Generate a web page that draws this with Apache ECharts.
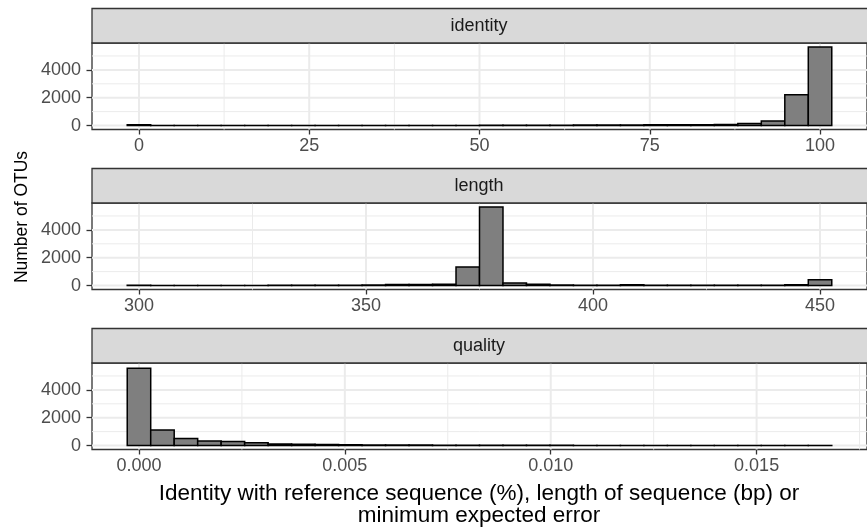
<!DOCTYPE html>
<html><head><meta charset="utf-8">
<script src="https://cdn.jsdelivr.net/npm/echarts@6/dist/echarts.min.js"></script>
<style>html,body{margin:0;padding:0;background:#fff}#c{width:867px;height:531px}</style>
</head><body><div id="c"></div>
<script>
// ---- data ----
const panelNames = ['identity', 'length', 'quality'];
const identityRange = [0, 100];
const identityCounts = [60, 8, 5, 6, 5, 8, 6, 7, 8, 6, 8, 9, 10, 12, 12, 14, 15, 18, 30, 35, 40, 45, 50, 55, 60, 85, 150, 330, 2210, 5640];
const lengthRange = [300, 450];
const lengthCounts = [25, 10, 10, 12, 10, 12, 15, 15, 20, 25, 40, 70, 80, 90, 1330, 5650, 180, 100, 40, 25, 20, 50, 15, 15, 15, 15, 15, 15, 60, 420];
const qualityRange = [0, 0.01654];
const qualityCounts = [5550, 1110, 500, 320, 300, 210, 120, 90, 70, 55, 45, 40, 35, 30, 25, 22, 20, 18, 15, 12, 12, 10, 10, 8, 8, 6, 6, 5, 5, 5];
const identityTicks = [0, 25, 50, 75, 100];
const identityTickLabels = ['0', '25', '50', '75', '100'];
const lengthTicks = [300, 350, 400, 450];
const lengthTickLabels = ['300', '350', '400', '450'];
const qualityTicks = [0, 0.005, 0.01, 0.015];
const qualityTickLabels = ['0.000', '0.005', '0.010', '0.015'];
const yTicks = [0, 2000, 4000];
const yTickLabels = ['0', '2000', '4000'];
const yTitle = 'Number of OTUs';
const xTitle = 'Identity with reference sequence (%), length of sequence (bp) or\nminimum expected error';

// ---- layout ----
const panels = [
  {name: panelNames[0], range: identityRange, counts: identityCounts, ticks: identityTicks, labels: identityTickLabels},
  {name: panelNames[1], range: lengthRange, counts: lengthCounts, ticks: lengthTicks, labels: lengthTickLabels},
  {name: panelNames[2], range: qualityRange, counts: qualityCounts, ticks: qualityTicks, labels: qualityTickLabels}
];
const LEFT = 92, WIDTH = 778, PH = 86.5, STRIP = 34.5;
const TOPS = [43, 203, 363];
const NBINS = 30;
const allCounts = identityCounts.concat(lengthCounts, qualityCounts);
const yMaxData = Math.max.apply(null, allCounts);
const yMin = -0.05 * yMaxData, yMax = 1.05 * yMaxData;
function minorOf(ticks, lo, hi) {
  const step = ticks[1] - ticks[0];
  const out = [];
  for (let i = -1; i < ticks.length; i++) {
    const v = ticks[0] + (i + 0.5) * step;
    if (v > lo && v < hi) out.push(v);
  }
  return out;
}
const grids = [], xAxes = [], yAxes = [], series = [], graphics = [];
const BORDER = '#333333';
const FONT = 'Liberation Sans';
panels.forEach((p, i) => {
  const bw = (p.range[1] - p.range[0]) / (NBINS - 1);
  const lo = p.range[0] - bw / 2, hi = p.range[1] + bw / 2;
  const ex = 0.05 * (hi - lo);
  const xmin = lo - ex, xmax = hi + ex;
  grids.push({left: LEFT, width: WIDTH, top: TOPS[i], height: PH, show: true, borderColor: BORDER, borderWidth: 1.3, backgroundColor: '#fff'});
  xAxes.push({
    type: 'value', gridIndex: i, min: xmin, max: xmax, position: 'bottom',
    axisLine: {show: false, onZero: false},
    splitLine: {show: false},
    axisTick: {show: true, customValues: p.ticks, length: 5, lineStyle: {color: BORDER, width: 1.3}},
    axisLabel: {customValues: p.ticks, color: '#4D4D4D', fontSize: 18, fontFamily: FONT, margin: 8,
      formatter: v => { const k = p.ticks.findIndex(t => Math.abs(t - v) < 1e-9); return k >= 0 ? p.labels[k] : ''; }}
  });
  yAxes.push({
    type: 'value', gridIndex: i, min: yMin, max: yMax, position: 'left',
    axisLine: {show: false, onZero: false},
    splitLine: {show: false},
    axisTick: {show: true, customValues: yTicks, length: 5.5, lineStyle: {color: BORDER, width: 1.3}},
    axisLabel: {customValues: yTicks, color: '#4D4D4D', fontSize: 18, fontFamily: FONT, margin: 11,
      formatter: v => { const k = yTicks.findIndex(t => Math.abs(t - v) < 1e-9); return k >= 0 ? yTickLabels[k] : ''; }}
  });
  // grid lines (vertical: [x value, minor flag]; horizontal: [y value, minor flag])
  const vLines = minorOf(p.ticks, xmin, xmax).map(v => [v, 1]).concat(p.ticks.map(v => [v, 0]));
  const hLines = minorOf(yTicks, yMin, yMax).map(v => [v, 1]).concat(yTicks.map(v => [v, 0]));
  series.push({
    type: 'custom', xAxisIndex: i, yAxisIndex: i, z: 1, silent: true, clip: false,
    data: vLines.map(d => [d[0], yMin, d[1]]), encode: {x: 0, y: 1},
    renderItem: (params, api) => {
      const cs = params.coordSys;
      const x = api.coord([api.value(0), api.value(1)])[0];
      return {type: 'line', shape: {x1: x, y1: cs.y, x2: x, y2: cs.y + cs.height},
        style: {stroke: '#EBEBEB', lineWidth: api.value(2) === 1 ? 1 : 2}};
    }
  });
  series.push({
    type: 'custom', xAxisIndex: i, yAxisIndex: i, z: 1, silent: true, clip: false,
    data: hLines.map(d => [xmin, d[0], d[1]]), encode: {x: 0, y: 1},
    renderItem: (params, api) => {
      const cs = params.coordSys;
      const y = api.coord([api.value(0), api.value(1)])[1];
      return {type: 'line', shape: {x1: cs.x, y1: y, x2: cs.x + cs.width, y2: y},
        style: {stroke: '#EBEBEB', lineWidth: api.value(2) === 1 ? 1 : 2}};
    }
  });
  // histogram bars
  series.push({
    type: 'custom', xAxisIndex: i, yAxisIndex: i, z: 2, clip: true,
    data: p.counts.map((n, k) => [p.range[0] + k * bw, n]),
    encode: {x: 0, y: 1},
    renderItem: (params, api) => {
      const c = api.value(0), n = api.value(1);
      const a = api.coord([c - bw / 2, 0]);
      const b = api.coord([c + bw / 2, n]);
      return {type: 'rect', shape: {x: a[0], y: b[1], width: b[0] - a[0], height: a[1] - b[1]},
        style: {fill: '#7F7F7F', stroke: '#000', lineWidth: 1.5}};
    }
  });
  // strip
  graphics.push({type: 'rect', shape: {x: LEFT, y: TOPS[i] - STRIP, width: WIDTH, height: STRIP},
    style: {fill: '#D9D9D9', stroke: BORDER, lineWidth: 1.3}, z: 10});
  graphics.push({type: 'text', x: LEFT + WIDTH / 2 - 2, y: TOPS[i] - STRIP / 2,
    style: {text: p.name, fill: '#1A1A1A', font: '18px "' + FONT + '"', textAlign: 'center', textVerticalAlign: 'middle'}, z: 11});
});
graphics.push({type: 'text', x: 22, y: 217, rotation: Math.PI / 2,
  style: {text: yTitle, fill: '#000', font: '17.5px "' + FONT + '"', textAlign: 'center', textVerticalAlign: 'middle'}});
graphics.push({type: 'text', x: LEFT + WIDTH / 2 - 2, y: 505,
  style: {text: xTitle, fill: '#000', font: '22.5px "' + FONT + '"', textAlign: 'center', textVerticalAlign: 'middle', lineHeight: 22}});

const chart = echarts.init(document.getElementById('c'), null, {renderer: 'canvas'});
chart.setOption({
  animation: false,
  backgroundColor: '#fff',
  grid: grids, xAxis: xAxes, yAxis: yAxes, series: series, graphic: graphics
});
</script></body></html>
